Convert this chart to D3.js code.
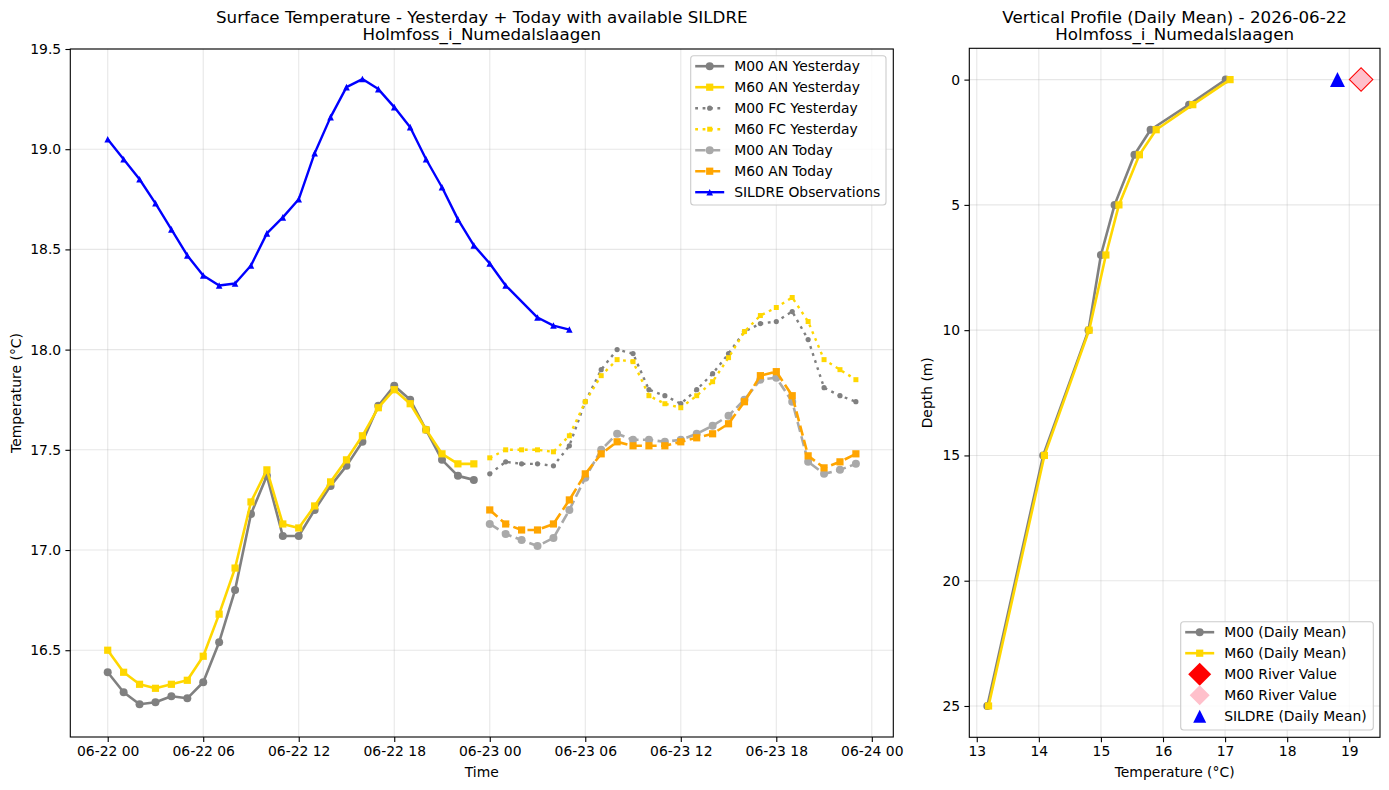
<!DOCTYPE html>
<html lang="en">
<head>
<meta charset="utf-8">
<title>Surface temperature and vertical profile</title>

<!-- Load d3.js -->
<script src="https://d3js.org/d3.v7.min.js"></script>

<style>
  body {
    margin: 0;
    background: white;
    font-family: 'DejaVu Sans', sans-serif;
  }
  .tick text {
    font-family: 'DejaVu Sans', sans-serif;
    font-size: 13.9px;
    fill: black;
  }
  .tick line {
    stroke: black;
    stroke-width: 1.1;
  }
  .domain {
    display: none;
  }
  .grid line {
    stroke: #b0b0b0;
    stroke-opacity: 0.3;
    stroke-width: 1.1;
  }
  .title {
    font-size: 16.7px;
    text-anchor: middle;
  }
  .label {
    font-size: 13.9px;
    text-anchor: middle;
  }
  .legend text {
    font-size: 13.9px;
  }
</style>
</head>
<body>
<div id="chart"></div>

<script>

// ---------- surface data (hours after 2026-06-22 00:00) ----------
var hoursYesterday = [0,1,2,3,4,5,6,7,8,9,10,11,12,13,14,15,16,17,18,19,20,21,22,23];
var hoursToday = [24,25,26,27,28,29,30,31,32,33,34,35,36,37,38,39,40,41,42,43,44,45,46,47];
var hoursSildre = [0,1,2,3,4,5,6,7,8,9,10,11,12,13,14,15,16,17,18,19,20,21,22,23,24,25,27,28,29];

var m00AnYesterday = [16.39,16.29,16.23,16.24,16.27,16.26,16.34,16.54,16.80,17.18,17.37,17.07,
                      17.07,17.20,17.32,17.42,17.54,17.72,17.82,17.75,17.60,17.45,17.37,17.35];
var m60AnYesterday = [16.50,16.39,16.33,16.31,16.33,16.35,16.47,16.68,16.91,17.24,17.40,17.13,
                      17.11,17.22,17.34,17.45,17.57,17.71,17.80,17.73,17.60,17.48,17.43,17.43];
var m00FcYesterday = [17.38,17.44,17.43,17.43,17.42,17.52,17.74,17.90,18.00,17.98,17.80,17.77,
                      17.73,17.80,17.88,17.98,18.09,18.13,18.14,18.19,18.05,17.81,17.77,17.74];
var m60FcYesterday = [17.46,17.50,17.50,17.50,17.49,17.57,17.74,17.87,17.95,17.94,17.77,17.73,
                      17.71,17.77,17.84,17.96,18.09,18.17,18.21,18.26,18.14,17.95,17.90,17.85];
var m00AnToday = [17.13,17.08,17.05,17.02,17.06,17.20,17.36,17.50,17.58,17.55,17.55,17.54,
                  17.55,17.58,17.62,17.67,17.75,17.85,17.86,17.74,17.44,17.38,17.40,17.43];
var m60AnToday = [17.20,17.13,17.10,17.10,17.13,17.25,17.38,17.48,17.54,17.52,17.52,17.52,
                  17.54,17.56,17.58,17.63,17.74,17.87,17.89,17.77,17.47,17.41,17.44,17.48];
var sildreObs = [19.05,18.95,18.85,18.73,18.60,18.47,18.37,18.32,18.33,18.42,18.58,18.66,18.75,
                 18.98,19.16,19.31,19.35,19.30,19.21,19.11,18.95,18.81,18.65,18.52,18.43,18.32,
                 18.16,18.12,18.10];

// ---------- profile data (daily mean) ----------
var depths = [0,1,2,3,5,7,10,15,25];
var m00Profile = [17.01,16.42,15.80,15.54,15.22,15.00,14.80,14.07,13.17];
var m60Profile = [17.08,16.48,15.89,15.62,15.29,15.08,14.81,14.09,13.19];
var riverDepth = 0;
var m00River = 19.19;
var m60River = 19.19;
var sildreMean = 18.81;

// tick values
var tempTicks = [16.5,17.0,17.5,18.0,18.5,19.0,19.5];
var profileTempTicks = [13,14,15,16,17,18,19];
var depthTicks = [0,5,10,15,20,25];

var start = Date.UTC(2026, 5, 22, 0);
function hourToDate(h) { return new Date(start + h * 3600 * 1000); }

var colours = { grey: "#808080", gold: "#FFD700", darkgrey: "#A9A9A9", orange: "#FFA500", blue: "#0000FF",
                red: "#FF0000", pink: "#FFC0CB" };

var svg = d3.select("#chart")
  .append("svg")
    .attr("width", 1389)
    .attr("height", 790);

// marker shapes, half size h
function markerPath(type, h) {
  if (type == "circle") return d3.symbol(d3.symbolCircle, Math.PI * h * h)();
  if (type == "square") return "M" + (-h) + "," + (-h) + "h" + 2*h + "v" + 2*h + "h" + (-2*h) + "Z";
  if (type == "triangle") return "M0," + (-h) + "L" + h + "," + h + "L" + (-h) + "," + h + "Z";
  if (type == "diamond") return "M0," + (-h) + "L" + h + ",0L0," + h + "L" + (-h) + ",0Z";
}

// ================= LEFT: surface temperature =================
var L = { left: 70.3, right: 893.3, top: 49, bottom: 737 };

var x = d3.scaleUtc()
  .domain([hourToDate(-2.35), hourToDate(49.35)])
  .range([L.left, L.right]);

var y = d3.scaleLinear()
  .domain([16.067, 19.50])
  .range([L.bottom, L.top]);

var xTicks = d3.utcHour.every(6).range(hourToDate(0), hourToDate(48.5));

// grid
var gridL = svg.append("g").attr("class", "grid");
gridL.selectAll(".gx").data(xTicks).enter().append("line")
  .attr("x1", function(d) { return x(d) }).attr("x2", function(d) { return x(d) })
  .attr("y1", L.top).attr("y2", L.bottom);
gridL.selectAll(".gy").data(tempTicks).enter().append("line")
  .attr("y1", function(d) { return y(d) }).attr("y2", function(d) { return y(d) })
  .attr("x1", L.left).attr("x2", L.right);

svg.append("g")
  .attr("transform", "translate(0," + L.bottom + ")")
  .call(d3.axisBottom(x).tickValues(xTicks).tickFormat(d3.utcFormat("%m-%d %H")).tickSize(4.9).tickPadding(4.2));

svg.append("g")
  .attr("transform", "translate(" + L.left + ",0)")
  .call(d3.axisLeft(y).tickValues(tempTicks).tickFormat(d3.format(".1f")).tickSize(4.9).tickPadding(4.2));

var surfaceSeries = [
  { name: "M00 AN Yesterday", hours: hoursYesterday, values: m00AnYesterday, color: colours.grey, dash: null, marker: "circle", ms: 4, lw: 2.6 },
  { name: "M60 AN Yesterday", hours: hoursYesterday, values: m60AnYesterday, color: colours.gold, dash: null, marker: "square", ms: 3.6, lw: 2.6 },
  { name: "M00 FC Yesterday", hours: hoursToday, values: m00FcYesterday, color: colours.grey, dash: "2.8,4.6", marker: "circle", ms: 2.6, lw: 2.4 },
  { name: "M60 FC Yesterday", hours: hoursToday, values: m60FcYesterday, color: colours.gold, dash: "2.8,4.6", marker: "square", ms: 2.5, lw: 2.4 },
  { name: "M00 AN Today", hours: hoursToday, values: m00AnToday, color: colours.darkgrey, dash: "10.3,4.4", marker: "circle", ms: 4, lw: 2.6 },
  { name: "M60 AN Today", hours: hoursToday, values: m60AnToday, color: colours.orange, dash: "10.3,4.4", marker: "square", ms: 3.6, lw: 2.6 },
  { name: "SILDRE Observations", hours: hoursSildre, values: sildreObs, color: colours.blue, dash: null, marker: "triangle", ms: 3.3, lw: 2.4 }
];

var line = d3.line()
  .x(function(d) { return x(hourToDate(d.h)) })
  .y(function(d) { return y(d.v) });

surfaceSeries.forEach(function(s) {
  var pts = s.values.map(function(v, i) { return { h: s.hours[i], v: v } });
  svg.append("path")
    .datum(pts)
    .attr("d", line)
    .attr("fill", "none")
    .attr("stroke", s.color)
    .attr("stroke-width", s.lw)
    .attr("stroke-dasharray", s.dash)
    .attr("stroke-linejoin", "round");
  svg.append("g").selectAll("path")
    .data(pts).enter().append("path")
    .attr("d", markerPath(s.marker, s.ms))
    .attr("transform", function(d) { return "translate(" + x(hourToDate(d.h)) + "," + y(d.v) + ")" })
    .attr("fill", s.color);
});

// frame
svg.append("rect")
  .attr("x", L.left).attr("y", L.top)
  .attr("width", L.right - L.left).attr("height", L.bottom - L.top)
  .attr("fill", "none").attr("stroke", "black").attr("stroke-width", 1.1);

svg.append("text").attr("class", "title").attr("x", (L.left + L.right) / 2).attr("y", 22.5)
  .text("Surface Temperature - Yesterday + Today with available SILDRE");
svg.append("text").attr("class", "title").attr("x", (L.left + L.right) / 2).attr("y", 39.8)
  .text("Holmfoss_i_Numedalslaagen");
svg.append("text").attr("class", "label").attr("x", (L.left + L.right) / 2).attr("y", 777)
  .text("Time");
svg.append("text").attr("class", "label")
  .attr("transform", "translate(21," + (L.top + L.bottom) / 2 + ") rotate(-90)")
  .text("Temperature (°C)");

// legend helper
function drawLegend(box, entries) {
  var g = svg.append("g").attr("class", "legend");
  g.append("rect")
    .attr("x", box.x).attr("y", box.y).attr("width", box.w).attr("height", box.h)
    .attr("rx", 3).attr("fill", "white").attr("fill-opacity", 0.8)
    .attr("stroke", "#cccccc").attr("stroke-width", 1.1);
  entries.forEach(function(e, i) {
    var yy = box.y + 10.5 + i * 21;
    var hx = box.x + 4.5;
    if (e.lw) {
      g.append("line")
        .attr("x1", hx).attr("x2", hx + 29).attr("y1", yy).attr("y2", yy)
        .attr("stroke", e.color).attr("stroke-width", e.lw)
        .attr("stroke-dasharray", e.dash);
    }
    g.append("path")
      .attr("d", markerPath(e.marker, e.ms))
      .attr("transform", "translate(" + (hx + 14.5) + "," + yy + ")")
      .attr("fill", e.color);
    g.append("text")
      .attr("x", hx + 39).attr("y", yy).attr("dy", "0.35em")
      .text(e.name);
  });
}

drawLegend({ x: 690.7, y: 55.7, w: 195.3, h: 149.3 }, surfaceSeries);

// ================= RIGHT: vertical profile =================
var R = { left: 969.3, right: 1380, top: 48.3, bottom: 737.3 };

var px = d3.scaleLinear()
  .domain([12.88, 19.495])
  .range([R.left, R.right]);

var py = d3.scaleLinear()
  .domain([-1.25, 26.25])
  .range([R.top, R.bottom]);

var gridR = svg.append("g").attr("class", "grid");
gridR.selectAll(".gx").data(profileTempTicks).enter().append("line")
  .attr("x1", function(d) { return px(d) }).attr("x2", function(d) { return px(d) })
  .attr("y1", R.top).attr("y2", R.bottom);
gridR.selectAll(".gy").data(depthTicks).enter().append("line")
  .attr("y1", function(d) { return py(d) }).attr("y2", function(d) { return py(d) })
  .attr("x1", R.left).attr("x2", R.right);

svg.append("g")
  .attr("transform", "translate(0," + R.bottom + ")")
  .call(d3.axisBottom(px).tickValues(profileTempTicks).tickFormat(d3.format("d")).tickSize(4.9).tickPadding(4.2));

svg.append("g")
  .attr("transform", "translate(" + R.left + ",0)")
  .call(d3.axisLeft(py).tickValues(depthTicks).tickFormat(d3.format("d")).tickSize(4.9).tickPadding(4.2));

var profileSeries = [
  { name: "M00 (Daily Mean)", values: m00Profile, color: colours.grey, marker: "circle", ms: 4, lw: 2.6 },
  { name: "M60 (Daily Mean)", values: m60Profile, color: colours.gold, marker: "square", ms: 3.6, lw: 2.6 }
];

var pline = d3.line()
  .x(function(d) { return px(d.t) })
  .y(function(d) { return py(d.d) });

profileSeries.forEach(function(s) {
  var pts = s.values.map(function(t, i) { return { t: t, d: depths[i] } });
  svg.append("path")
    .datum(pts)
    .attr("d", pline)
    .attr("fill", "none")
    .attr("stroke", s.color)
    .attr("stroke-width", s.lw)
    .attr("stroke-linejoin", "round");
  svg.append("g").selectAll("path")
    .data(pts).enter().append("path")
    .attr("d", markerPath(s.marker, s.ms))
    .attr("transform", function(d) { return "translate(" + px(d.t) + "," + py(d.d) + ")" })
    .attr("fill", s.color);
});

var pointMarks = [
  { name: "M00 River Value", t: m00River, color: colours.red, marker: "diamond", ms: 12.5 },
  { name: "M60 River Value", t: m60River, color: colours.pink, marker: "diamond", ms: 11 },
  { name: "SILDRE (Daily Mean)", t: sildreMean, color: colours.blue, marker: "triangle", ms: 7.5 }
];

pointMarks.forEach(function(p) {
  svg.append("path")
    .attr("d", markerPath(p.marker, p.ms))
    .attr("transform", "translate(" + px(p.t) + "," + py(riverDepth) + ")")
    .attr("fill", p.color);
});

svg.append("rect")
  .attr("x", R.left).attr("y", R.top)
  .attr("width", R.right - R.left).attr("height", R.bottom - R.top)
  .attr("fill", "none").attr("stroke", "black").attr("stroke-width", 1.1);

svg.append("text").attr("class", "title").attr("x", (R.left + R.right) / 2).attr("y", 22.5)
  .text("Vertical Profile (Daily Mean) - 2026-06-22");
svg.append("text").attr("class", "title").attr("x", (R.left + R.right) / 2).attr("y", 39.8)
  .text("Holmfoss_i_Numedalslaagen");
svg.append("text").attr("class", "label").attr("x", (R.left + R.right) / 2).attr("y", 777)
  .text("Temperature (°C)");
svg.append("text").attr("class", "label")
  .attr("transform", "translate(932," + (R.top + R.bottom) / 2 + ") rotate(-90)")
  .text("Depth (m)");

var profileLegend = profileSeries.concat(pointMarks.map(function(p) {
  return { name: p.name, color: p.color, marker: p.marker, ms: p.ms - 1, lw: 0 };
}));
drawLegend({ x: 1180.7, y: 621.7, w: 192.6, h: 108.3 }, profileLegend);

</script>
</body>
</html>
